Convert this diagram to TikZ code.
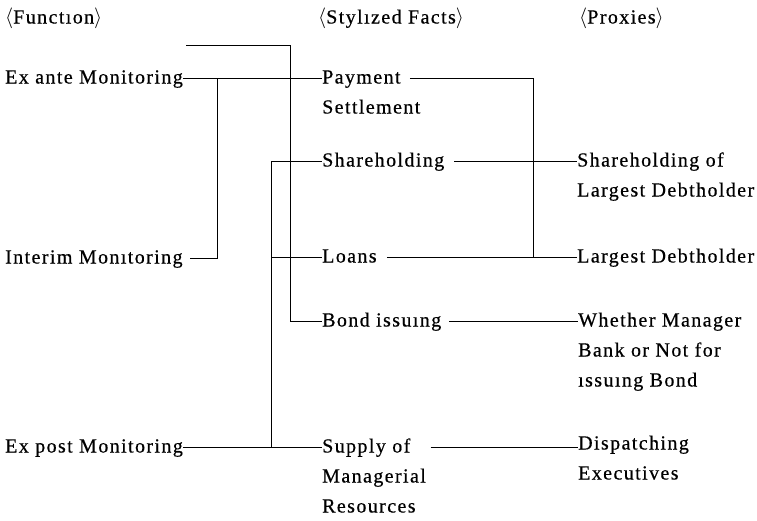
\documentclass[tikz,border=0pt]{standalone}
\usepackage{fontspec}
\setmainfont{Liberation Serif}[LetterSpace=7,FakeBold=0.5]
\begin{document}
\begin{tikzpicture}[x=1pt,y=-1pt,
  txt/.style={anchor=west, inner sep=0pt, text height=11pt, text depth=0pt,
    font=\fontsize{20}{22}\selectfont},
  ln/.style={line width=0.9pt, black}]
\useasboundingbox (0,0) rectangle (757,520);
% headers
\node[txt] (hf) at (5,18) {$\langle$Functıon$\rangle$};
\node[txt] (hs) at (318,18) {$\langle$Stylızed Facts$\rangle$};
\node[txt] (hp) at (579,18) {$\langle$Proxies$\rangle$};
% function column
\node[txt] (exante) at (5,78) {Ex ante Monitoring};
\node[txt] (interim) at (5,258) {Interim Monıtoring};
\node[txt] (expost) at (5,447) {Ex post Monitoring};
% stylized facts column
\node[txt] (pay) at (322,78) {Payment};
\node[txt] (pay2) at (322,108) {Settlement};
\node[txt] (share) at (322,161) {Shareholding};
\node[txt] (loans) at (322,257) {Loans};
\node[txt] (bond) at (322,321) {Bond issuıng};
\node[txt] (sup) at (322,447) {Supply of};
\node[txt] (sup2) at (322,477) {Managerial};
\node[txt] (sup3) at (322,507) {Resources};
% proxies column
\node[txt] (shof) at (577,161) {Shareholding of};
\node[txt] (shof2) at (577,191) {Largest Debtholder};
\node[txt] (ld) at (577,257) {Largest Debtholder};
\node[txt] (wm) at (578,321) {Whether Manager};
\node[txt] (wm2) at (578,351) {Bank or Not for};
\node[txt] (wm3) at (578,381) {ıssuıng Bond};
\node[txt] (disp) at (578,444) {Dispatching};
\node[txt] (disp2) at (578,474) {Executives};
% junction coordinates
\coordinate (tl) at (186,45);
\coordinate (tr) at (290,45);
\coordinate (ja) at (217,78);
\coordinate (jb) at (271,161);
\coordinate (jc) at (533,78);
% left connectors
\draw[ln] (tl) -- (tr) -- (tr |- bond.west) -- (bond.west);
\draw[ln] (exante.east) -- (pay.west);
\draw[ln] (ja) -- (ja |- interim.east) -- ([xshift=7pt]interim.east);
\draw[ln] (jb) -- (share.west);
\draw[ln] (jb |- loans.west) -- (loans.west);
\draw[ln] (jb) -- (jb |- expost.east);
\draw[ln] (expost.east) -- (sup.west);
% right connectors
\draw[ln] ([xshift=9pt]pay.east) -- (jc) -- (jc |- loans.east);
\draw[ln] ([xshift=10pt]share.east) -- (shof.west);
\draw[ln] ([xshift=10pt]loans.east) -- (ld.west);
\draw[ln] ([xshift=8pt]bond.east) -- (wm.west);
\draw[ln] ([xshift=20pt]sup.east) -- (disp.west |- sup.east);
\end{tikzpicture}
\end{document}
